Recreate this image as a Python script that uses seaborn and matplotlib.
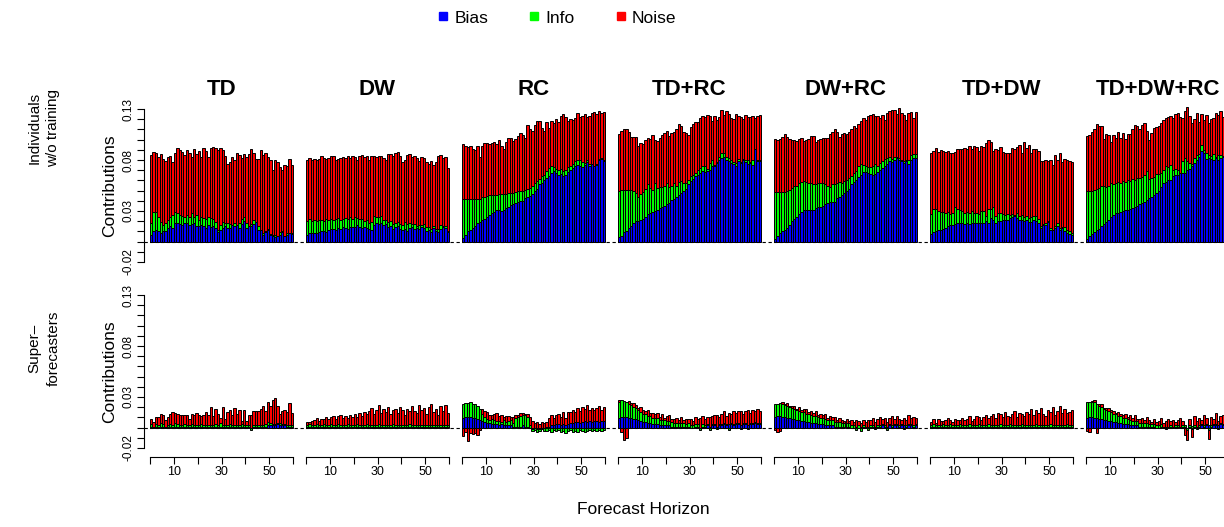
import numpy as np
import matplotlib
matplotlib.use("Agg")
import matplotlib.pyplot as plt
from matplotlib.lines import Line2D
import seaborn as sns

# paneles y horizonte (1..60)
panels = ["TD", "DW", "RC", "TD+RC", "DW+RC", "TD+DW", "TD+DW+RC"]
horizon = np.arange(1, 61)

# ---- fila 1: Individuals w/o training (valores en milesimas) ----
ind_td_bias = [6,10,11,10,8,10,10,13,15,13, 18,18,17,16,18,18,16,17,18,15, 15,16,15,13,16,14,15,13,9,11,
               13,15,13,13,16,15,16,13,17,20, 13,15,15,17,19,11,11,6,9,11, 6,5,4,5,6,9,5,6,8,7]
ind_td_info = [12,19,18,14,11,6,8,8,9,13, 11,10,9,9,6,8,8,11,6,11, 6,8,8,9,8,9,7,6,2,5,
               6,3,5,4,0,3,0,5,5,4, 5,0,2,4,0,4,0,2,1,1, 1,1,2,0,3,1,0,2,0,1]
ind_td_noise = [67,59,58,59,67,65,61,62,60,52, 58,64,64,63,61,64,63,55,67,60, 68,59,69,67,59,69,71,73,79,76,
                71,66,58,61,67,62,71,67,60,62, 65,71,74,66,62,66,79,77,77,71, 73,64,74,73,64,60,70,66,73,67]

ind_dw_bias = [6,8,8,8,8,9,10,10,9,11, 12,12,11,13,12,14,13,12,14,14, 14,16,14,13,14,13,12,11,16,18,
               17,18,16,17,14,15,12,14,15,12, 11,12,10,13,14,12,13,12,14,13, 10,11,9,13,10,9,12,14,13,9]
ind_dw_info = [14,14,12,13,12,12,11,10,13,10, 10,9,11,10,9,8,10,10,10,8, 10,7,8,9,6,8,6,8,9,6,
               7,7,5,4,5,5,5,4,4,5, 5,7,7,5,3,5,2,4,2,4, 4,3,3,2,2,3,4,1,2,1]
ind_dw_noise = [60,60,60,60,60,60,63,62,59,61, 62,63,58,58,61,61,59,62,58,62, 59,57,62,63,63,63,62,65,59,59,
                60,59,61,59,67,66,67,69,69,67, 62,61,68,68,66,67,67,63,67,65, 64,62,67,60,66,72,69,67,68,62]

ind_rc_bias = [3,6,10,11,13,15,18,19,21,22, 24,26,28,29,31,31,30,31,33,34, 36,37,38,39,40,40,43,44,45,47,
               50,52,56,57,60,62,64,67,69,67, 65,66,64,65,68,70,72,74,75,74, 73,75,78,74,76,74,75,80,81,79]
ind_rc_info = [39,36,32,31,29,27,24,23,23,22, 21,20,18,17,15,16,17,16,14,14, 12,11,11,11,10,10,8,8,8,8,
               7,7,5,7,5,7,8,7,4,4, 5,5,5,5,5,4,4,5,5,6, 5,2,2,2,0,0,1,1,1,1]
ind_rc_noise = [54,52,51,52,49,48,52,41,50,53, 52,50,51,52,50,53,47,44,51,54, 54,51,52,54,57,55,51,62,57,54,
                57,59,57,47,44,48,39,44,43,49, 47,52,56,52,45,46,43,42,46,42, 45,48,42,47,50,53,49,47,44,47]

ind_tdrc_bias = [4,5,9,10,13,15,18,20,20,21, 22,24,27,28,29,30,31,33,34,35, 37,38,41,42,44,46,48,50,52,56,
                 59,61,64,65,67,69,68,69,70,74, 74,77,80,82,83,80,79,77,76,74, 79,77,80,78,76,77,75,91,79,79]
ind_tdrc_info = [46,46,42,41,38,36,32,28,24,26, 27,28,29,25,22,27,22,21,20,20, 20,16,14,15,11,12,11,7,5,4,
                 5,4,3,5,5,5,6,2,7,6, 1,1,3,5,4,3,3,3,2,3, 2,1,1,2,4,1,5,0,1,1]
ind_tdrc_noise = [56,58,59,59,57,52,53,55,50,50, 47,48,46,48,54,43,46,48,51,52, 52,50,52,51,55,57,54,51,50,45,
                  48,50,50,47,49,49,48,53,46,38, 48,41,39,42,37,45,43,41,42,48, 42,44,39,44,42,44,43,30,43,44]

ind_dwrc_bias = [2,5,8,10,11,13,16,20,22,24, 27,29,31,31,31,31,31,33,34,34, 35,37,38,39,39,39,43,44,46,48,
                 50,52,56,58,60,63,65,68,68,67, 66,65,66,68,70,72,74,76,79,78, 80,82,80,79,77,79,76,80,82,82]
ind_dwrc_info = [47,44,41,39,38,37,35,33,33,31, 30,29,28,27,26,26,25,23,23,23, 22,19,17,15,17,17,14,14,11,11,
                 10,10,8,9,9,11,11,7,6,6, 7,9,10,6,7,7,7,6,4,3, 3,1,2,1,2,1,4,5,4,4]
ind_dwrc_noise = [52,51,52,54,57,53,50,47,45,44, 44,44,40,42,44,47,48,42,43,44, 45,46,47,52,52,54,51,45,49,48,
                  46,46,46,46,42,41,42,46,45,50, 51,51,47,49,44,45,38,44,45,48, 46,42,49,46,45,39,46,42,35,41]

ind_tddw_bias = [7,9,10,11,11,12,13,15,16,16, 17,18,18,18,17,18,17,18,18,18, 18,18,18,20,18,23,21,18,20,20,
                 21,21,21,23,24,25,23,21,21,20, 21,19,19,21,20,18,13,16,16,19, 11,11,13,15,11,13,10,8,7,6]
ind_tddw_info = [20,23,22,19,18,17,15,14,11,12, 17,14,13,12,11,11,11,12,10,10, 9,12,12,5,14,9,13,7,8,8,
                 6,5,6,3,3,1,5,4,5,4, 4,4,5,4,5,4,2,1,2,1, 2,0,2,3,2,1,4,3,3,2]
ind_tddw_noise = [60,57,60,58,61,60,60,60,60,59, 54,59,60,61,64,62,66,61,66,65, 62,64,63,72,68,66,55,66,62,65,
                  61,61,60,61,65,65,65,70,61,74, 67,72,63,66,66,67,64,62,62,59, 67,64,70,62,74,64,67,69,69,70]

ind_all_bias = [2,5,7,9,11,12,15,17,19,21, 24,26,28,28,29,30,31,31,32,33, 34,35,37,38,39,41,43,44,46,48,
                50,54,57,58,60,60,64,65,65,67, 67,67,70,71,74,77,80,83,89,87, 81,82,81,80,82,80,82,83,82,82]
ind_all_info = [48,45,43,42,41,41,40,38,35,34, 33,30,29,30,28,29,27,29,27,28, 26,27,25,25,26,28,18,18,17,18,
                16,13,13,16,13,15,6,6,5,0, 12,15,9,6,2,5,5,3,6,3, 6,3,3,6,1,5,3,1,3,3]
ind_all_noise = [54,55,58,59,63,60,58,46,52,50, 41,49,45,50,45,48,43,46,47,49, 54,51,48,51,51,40,39,45,48,46,
                 47,49,49,47,49,48,51,54,56,55, 42,46,53,46,40,38,41,31,30,29, 37,31,36,35,43,39,43,38,40,40]

# ---- fila 2: Superforecasters (valores en milesimas) ----
sup_td_bias = [1,0,1,1,1,1,0,1,1,1, 1,1,1,1,1,1,1,1,1,1, 1,1,1,1,1,1,1,1,1,1,
               1,1,1,1,1,1,1,1,1,1, 1,1,0,1,1,1,1,1,1,2, 2,2,2,3,2,2,2,1,1,1]
sup_td_info = [2,1,2,1,3,2,1,1,2,1, 3,2,1,1,2,1,1,2,1,1, 1,2,1,1,1,1,1,2,1,3,
               1,1,1,2,1,1,1,1,2,1, 1,1,-2,1,1,1,1,1,2,3, 2,1,1,1,2,1,1,1,1,1]
sup_td_noise = [5,4,7,8,9,9,6,8,10,13, 10,10,10,10,9,10,6,10,10,12, 10,8,10,13,10,18,9,15,11,5,
                18,6,13,14,10,17,11,15,3,15, 4,10,12,14,14,14,16,19,13,20, 17,24,26,17,9,13,14,13,22,12]

sup_dw_bias = [1,1,1,1,1,1,1,1,1,1, 1,1,1,1,1,1,1,1,1,1, 1,1,1,1,1,1,1,1,1,1,
               1,1,1,1,1,1,1,1,1,1, 1,1,1,1,1,1,1,1,1,1, 1,1,1,1,1,1,1,1,1,1]
sup_dw_info = [1,2,1,1,2,1,1,2,1,1, 2,1,1,2,1,1,1,2,1,1, 1,2,1,1,1,2,1,1,1,1,
               2,1,1,1,1,1,2,1,1,1, 1,1,1,2,1,1,1,1,1,1, 1,1,1,1,1,1,1,1,1,1]
sup_dw_noise = [3,2,4,5,6,4,6,5,8,6, 7,9,6,8,10,7,9,6,10,8, 11,7,12,9,13,10,14,17,11,15,
                19,12,16,13,18,11,14,16,12,18, 15,10,16,13,19,14,12,20,15,17, 11,18,21,13,16,10,19,14,20,12]

sup_rc_bias = [9,10,10,10,9,9,8,7,6,5, 4,4,3,3,3,2,3,2,2,2, 2,1,1,1,1,2,1,1,0,-1,
               0,-1,-1,0,0,1,1,2,2,3, 3,2,3,2,3,4,4,5,5,4, 5,6,5,6,5,6,6,5,6,6]
sup_rc_info = [14,14,14,15,14,14,13,11,7,5, 4,3,5,4,3,4,2,5,3,4, 5,3,8,9,10,10,11,9,2,-2,
               -2,-3,-2,-1,-3,-3,-2,-4,-2,-3, -2,-4,-3,-5,-3,-2,-4,-3,-4,-2, -3,-4,-3,-2,-3,-2,-3,-2,-3,-2]
sup_rc_noise = [-8,-4,-13,-5,-6,-5,-7,-2,5,6, 7,5,4,6,8,5,7,3,6,5, 3,6,3,2,3,2,1,3,8,6,
                4,5,3,5,4,4,8,10,7,9, 10,8,12,7,12,11,13,10,14,12, 15,12,17,11,14,11,13,16,11,14]

sup_tdrc_bias = [9,10,10,10,9,9,8,8,7,6, 5,5,4,4,3,3,3,2,2,2, 2,2,1,1,1,1,1,1,1,1,
                 0,0,1,1,0,1,1,2,1,2, 2,1,2,2,3,2,3,3,2,3, 3,2,3,3,2,3,3,4,3,3]
sup_tdrc_info = [16,17,16,15,14,13,12,11,10,9, 8,8,7,7,6,6,6,5,5,5, 4,4,4,3,3,3,3,3,2,3,
                 2,2,2,2,-2,2,1,1,-2,1, 1,-1,1,1,1,1,-2,1,1,1, 1,-1,1,1,-1,1,1,1,1,1]
sup_tdrc_noise = [2,-4,-12,-10,3,2,4,3,2,5, 4,3,6,3,5,4,5,3,6,2, 5,6,3,4,5,3,6,3,5,4,
                  6,4,7,5,9,8,6,7,9,8, 9,11,7,10,12,8,11,9,13,10, 12,14,9,12,15,10,13,11,14,12]

sup_dwrc_bias = [10,11,11,10,10,9,9,8,8,7, 7,6,6,5,5,4,4,4,3,3, 3,2,2,2,2,1,1,1,1,1,
                 1,1,0,0,1,0,1,1,0,1, 1,1,1,1,1,2,1,1,2,1, 2,2,1,2,2,1,2,2,1,2]
sup_dwrc_info = [13,12,13,13,12,12,11,11,10,10, 9,9,9,8,8,8,7,7,7,6, 6,6,5,5,5,4,4,4,3,3,
                 3,3,2,2,-2,2,-3,1,1,-2, 1,1,-1,1,1,1,1,-2,1,1, 1,1,1,1,-1,1,1,1,1,1]
sup_dwrc_noise = [-2,-4,-3,2,1,3,1,2,3,1, 4,2,3,5,2,4,3,5,2,4, 3,5,2,4,3,5,2,4,3,2,
                  4,2,5,3,6,4,3,5,4,6, 5,7,4,6,8,5,7,4,6,9, 5,8,6,4,7,5,9,6,8,6]

sup_tddw_bias = [1,1,1,1,1,1,1,1,1,1, 1,1,1,1,1,1,1,1,1,1, 1,1,1,1,1,1,1,1,1,1,
                 1,1,1,1,1,1,1,1,1,1, 1,1,1,1,1,1,1,1,1,1, 1,1,1,1,1,1,1,1,1,1]
sup_tddw_info = [1,2,1,1,1,2,1,1,2,1, 1,1,2,1,1,1,2,1,1,1, 2,1,1,1,2,1,1,1,1,2,
                 1,1,1,2,1,1,1,1,2,1, 1,1,1,1,2,1,1,1,1,1, 2,1,1,1,1,1,1,2,1,1]
sup_tddw_noise = [3,5,2,6,4,3,5,7,4,3, 6,5,4,7,5,6,8,4,6,9, 7,5,8,10,6,9,11,7,12,10,
                  8,13,9,7,11,14,8,12,10,9, 13,11,16,10,14,12,17,11,9,15, 12,18,10,14,19,12,16,11,13,15]

sup_all_bias = [9,10,10,9,9,8,8,7,7,6, 6,5,5,4,4,3,3,3,2,2, 2,2,1,1,1,1,1,1,1,0,
                0,1,0,-1,0,1,0,1,1,0, 1,1,0,1,-1,1,1,1,2,1, 2,2,1,2,2,2,3,2,2,3]
sup_all_info = [16,15,15,16,14,13,12,11,10,10, 9,8,8,7,7,6,6,5,5,4, 4,4,3,3,3,3,2,2,2,2,
                2,2,1,1,1,1,1,1,1,1, 1,1,-2,1,1,1,-1,1,1,1, 1,-2,1,1,1,-1,1,1,1,1]
sup_all_noise = [-3,-4,1,2,-5,2,3,1,2,3, 2,3,1,4,2,3,4,2,5,3, 6,2,4,5,3,6,4,2,5,3,
                 4,6,3,5,7,4,6,3,5,8, 4,-7,-10,6,-8,9,5,7,4,10, 6,-9,8,5,11,4,7,9,5,10]

rows = [
    [(ind_td_bias, ind_td_info, ind_td_noise), (ind_dw_bias, ind_dw_info, ind_dw_noise),
     (ind_rc_bias, ind_rc_info, ind_rc_noise), (ind_tdrc_bias, ind_tdrc_info, ind_tdrc_noise),
     (ind_dwrc_bias, ind_dwrc_info, ind_dwrc_noise), (ind_tddw_bias, ind_tddw_info, ind_tddw_noise),
     (ind_all_bias, ind_all_info, ind_all_noise)],
    [(sup_td_bias, sup_td_info, sup_td_noise), (sup_dw_bias, sup_dw_info, sup_dw_noise),
     (sup_rc_bias, sup_rc_info, sup_rc_noise), (sup_tdrc_bias, sup_tdrc_info, sup_tdrc_noise),
     (sup_dwrc_bias, sup_dwrc_info, sup_dwrc_noise), (sup_tddw_bias, sup_tddw_info, sup_tddw_noise),
     (sup_all_bias, sup_all_info, sup_all_noise)],
]
row_names = ["Individuals\nw/o training", "Super\u2013\nforecasters"]
comp_names = ["Bias", "Info", "Noise"]
comp_colors = ["#0000FF", "#00FF00", "#FF0000"]

sns.set_theme(style="white")
plt.rcParams["font.family"] = ["Liberation Sans", "DejaVu Sans"]
plt.rcParams.update({"text.color": "black", "axes.labelcolor": "black",
                     "xtick.color": "black", "ytick.color": "black"})

W, H = 1224, 527
fig = plt.figure(figsize=(W / 100, H / 100), dpi=100)

ymin, ymax = -0.02, 0.13
pad = 0.04 * (ymax - ymin)
yticks = np.round(np.arange(-0.02, 0.1301, 0.01), 2)
ylabs = [f"{t:.2f}" if round(t * 100) in (-2, 3, 8, 13) else "" for t in yticks]

row_top_px = [103, 289]   # borde superior de la region de dibujo
panel_h_px = 165
left0_px = 144.3
pitch_px = 156
panel_w_px = 154.4


def stacked(ax, parts):
    pos = np.zeros(len(horizon))
    neg = np.zeros(len(horizon))
    for vals, col in zip(parts, comp_colors):
        v = np.asarray(vals) / 1000.0
        base = np.where(v >= 0, pos, neg)
        ax.bar(horizon - 0.5, v, width=1.0, bottom=base, color=col,
               edgecolor="black", linewidth=0.7, zorder=2)
        pos = pos + np.clip(v, 0, None)
        neg = neg + np.clip(v, None, 0)


for r in range(2):
    for c in range(7):
        x0 = (left0_px + c * pitch_px) / W
        y0 = 1 - (row_top_px[r] + panel_h_px) / H
        ax = fig.add_axes([x0, y0, panel_w_px / W, panel_h_px / H])
        stacked(ax, rows[r][c])
        ax.axhline(0, color="black", lw=0.8, ls=(0, (3, 2)), zorder=3)
        ax.set_xlim(-2.4, 62.4)
        ax.set_ylim(ymin - pad, ymax + pad)
        for s in ax.spines.values():
            s.set_visible(False)
        ax.set_facecolor("none")
        ax.grid(False)
        if c == 0:
            ax.spines["left"].set_visible(True)
            ax.spines["left"].set_bounds(ymin, ymax)
            ax.spines["left"].set_color("black")
            ax.spines["left"].set_linewidth(0.8)
            ax.set_yticks(yticks)
            ax.set_yticklabels(ylabs, rotation=90, va="center", fontsize=8.5)
            ax.tick_params(axis="y", left=True, length=5, width=0.8, color="black", pad=2)
            ax.set_ylabel("Contributions", fontsize=12.5, labelpad=4)
        else:
            ax.set_yticks([])
        if r == 1:
            ax.spines["bottom"].set_visible(True)
            ax.spines["bottom"].set_bounds(0, 60)
            ax.spines["bottom"].set_position(("outward", 2))
            ax.spines["bottom"].set_color("black")
            ax.spines["bottom"].set_linewidth(0.8)
            ax.set_xticks(np.arange(0, 61, 10))
            ax.set_xticklabels(["", "10", "", "30", "", "50", ""], fontsize=9)
            ax.tick_params(axis="x", bottom=True, length=5, width=0.8, color="black", pad=1.5)
        else:
            ax.set_xticks([])
            ax.set_title(panels[c], fontsize=16, fontweight="bold", pad=6)

row_label_y = [128, 348]
for r in range(2):
    fig.text(44 / W, 1 - row_label_y[r] / H, row_names[r], rotation=90, ha="center", va="center",
             fontsize=11, linespacing=1.45)

fig.text(643 / W, 1 - 510 / H, "Forecast Horizon", ha="center", va="center", fontsize=12.5)

handles = [Line2D([], [], marker="s", ls="none", color=col, markersize=6) for col in comp_colors]
fig.legend(handles, comp_names, loc="upper center", bbox_to_anchor=(557 / W, 1.01), ncol=3,
           frameon=False, fontsize=12.5, handlelength=0.6, handletextpad=0.35, columnspacing=2.35)

fig.savefig("out.png", dpi=100)
